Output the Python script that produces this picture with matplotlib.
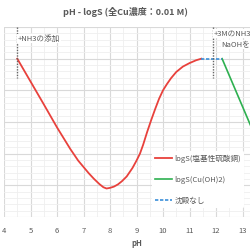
import matplotlib
matplotlib.use("Agg")
import matplotlib.pyplot as plt
from matplotlib.ticker import MultipleLocator

plt.rcParams['font.family'] = ['Noto Sans CJK JP', 'DejaVu Sans']

# basic copper sulfate curve (pH, logS)
ph_red = [4.5, 5.0, 5.5, 6.0, 6.5, 6.8, 7.0, 7.2, 7.4, 7.6, 7.75, 7.87, 8.0, 8.15, 8.3, 8.45,
          8.63, 8.85, 9.0, 9.13, 9.25, 9.4, 9.55, 9.7, 9.85, 10.0, 10.15, 10.3, 10.5, 10.75,
          11.0, 11.25, 11.45]
logs_red = [-2.0, -2.72, -3.44, -4.17, -4.85, -5.22, -5.42, -5.62, -5.8, -5.96, -6.06, -6.1,
            -6.08, -6.04, -5.97, -5.87, -5.72, -5.45, -5.22, -5.0, -4.72, -4.32, -3.95, -3.6,
            -3.27, -3.0, -2.8, -2.62, -2.42, -2.25, -2.14, -2.05, -2.0]

# Cu(OH)2 curve
ph_green = [12.23, 13.3, 14.0]
logs_green = [-2.0, -4.1, -5.5]

# no precipitate
ph_blue = [11.45, 12.23]
logs_blue = [-2.0, -2.0]

# reagent addition markers
ph_marks = [4.5, 11.9]

grey = '#595959'

fig = plt.figure(figsize=(2.5, 2.5), dpi=100)
ax = fig.add_axes([0.016, 0.132, 1.06, 0.76])

ax.plot(ph_red, logs_red, color='#e8413c', lw=1.3, label='logS(塩基性硫酸銅)')
ax.plot(ph_green, logs_green, color='#2eb050', lw=1.2, label='logS(Cu(OH)2)')
ax.plot(ph_blue, logs_blue, color='#3a8fd9', lw=1.2, ls=(0, (2, 1)), label='沈殿なし')

for p in ph_marks:
    ax.plot([p, p], [-1.0, -2.6], color='#666666', lw=1.0, ls=(0, (1, 1)))

ax.text(4.53, -1.36, '+NH3の添加', fontsize=5.5, color=grey, va='center', ha='left',
        bbox=dict(facecolor='white', edgecolor='none', pad=0.5))
ax.text(11.93, -1.2, '+3MのNH3と', fontsize=5.5, color=grey, va='center', ha='left',
        bbox=dict(facecolor='white', edgecolor='none', pad=0.5))
ax.text(12.2, -1.55, 'NaOHを添加', fontsize=5.5, color=grey, va='center', ha='left',
        bbox=dict(facecolor='white', edgecolor='none', pad=0.5))

ax.set_xlim(4, 14)
ax.set_ylim(-7, -1)
ax.set_xticks(range(4, 14))
ax.xaxis.set_minor_locator(MultipleLocator(0.5))
ax.yaxis.set_major_locator(MultipleLocator(1))
ax.yaxis.set_minor_locator(MultipleLocator(0.2))
ax.grid(which='major', color='#d9d9d9', lw=0.8)
ax.grid(which='minor', color='#efefef', lw=0.6)
ax.set_axisbelow(True)
for s in ax.spines.values():
    s.set_visible(False)
ax.tick_params(which='both', length=0)
ax.tick_params(axis='x', labelsize=5.5, labelcolor=grey, pad=7)
ax.set_yticklabels([])
ax.set_xlabel('pH', fontsize=5.5, color=grey, fontweight='bold', labelpad=3)

leg = ax.legend(loc='upper left', bbox_to_anchor=(0.545, 0.365), fontsize=5.5, frameon=True,
                framealpha=1.0, edgecolor='none', handlelength=2.2, handletextpad=0.3,
                labelspacing=1.7, borderpad=0.4)
for t in leg.get_texts():
    t.set_color(grey)

fig.text(0.5, 0.952, 'pH - logS (全Cu濃度：0.01 M)', fontsize=6.5, color=grey,
         fontweight='bold', ha='center', va='center')

fig.savefig('out.png', dpi=100)
